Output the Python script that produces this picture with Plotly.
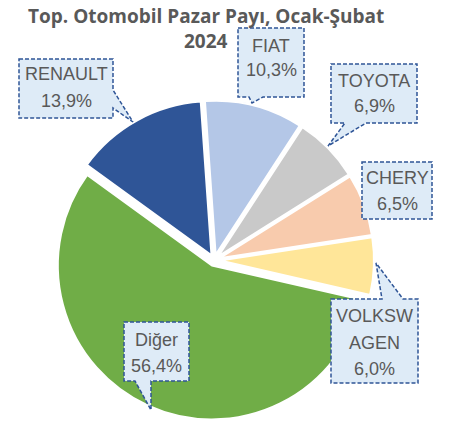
import plotly.graph_objects as go

# ---- data ----
brands = ["FIAT", "TOYOTA", "CHERY", "VOLKSWAGEN", "Diğer", "RENAULT"]
shares = [10.3, 6.9, 6.5, 6.0, 56.4, 13.9]
label_lines = [["FIAT", "10,3%"], ["TOYOTA", "6,9%"], ["CHERY", "6,5%"],
               ["VOLKSW", "AGEN", "6,0%"], ["Diğer", "56,4%"], ["RENAULT", "13,9%"]]
colors = ["#B4C7E7", "#C9C9C9", "#F8CBAD", "#FFE699", "#70AD47", "#2F5597"]
title_lines = ["Top. Otomobil Pazar Payı, Ocak-Şubat", "2024"]

W, H = 449, 422
FONT = "Liberation Sans, Arial, sans-serif"
TFONT = "Open Sans, sans-serif"
GRAY = "#595959"
BOX_FILL = "#DEEBF7"
BOX_LINE = "#2F5597"


def px(x):
    return x / W


def py(y):
    return 1 - y / H


def path(points):
    s = "M " + " L ".join(f"{px(x):.5f},{py(y):.5f}" for x, y in points) + " Z"
    return s


fig = go.Figure()
fig.add_trace(go.Pie(
    labels=brands, values=shares, sort=False, direction="clockwise",
    rotation=-4, pull=[0.037] * len(shares),
    marker=dict(colors=colors, line=dict(color="white", width=2)),
    textinfo="none", hoverinfo="label+percent",
    domain=dict(x=[54.5 / W, 374 / W], y=[1 - 420 / H, 1 - 100.5 / H]),
    showlegend=False,
))

# callout geometry (pixel layout positions)
callouts = {
    "RENAULT": dict(shape=[(19, 59), (113, 59), (113, 90), (133, 122), (113, 108), (113, 118), (19, 118)],
                    cx=66, ys=[74, 100.5]),
    "FIAT": dict(shape=[(238, 28), (304, 28), (304, 97), (263, 97), (252, 103), (249, 97), (238, 97)],
                 cx=271, ys=[46, 69.5]),
    "TOYOTA": dict(shape=[(331, 64), (417, 64), (417, 123), (366, 123), (328, 146), (345, 123), (331, 123)],
                   cx=374, ys=[80.5, 106]),
    "CHERY": dict(shape=[(362, 162), (432, 162), (432, 219), (362, 219)],
                  cx=397, ys=[177.5, 203.5]),
    "VOLKSWAGEN": dict(shape=[(331, 299), (382, 299), (376, 263), (403, 299), (418, 299), (418, 383), (331, 383)],
                       cx=374.5, ys=[316, 342.5, 369]),
    "Diğer": dict(shape=[(124, 322), (189, 322), (189, 381), (151, 381), (151, 410), (135, 381), (124, 381)],
                  cx=156.5, ys=[339.5, 365.5]),
}

shapes = []
annotations = []
for b, lines in zip(brands, label_lines):
    c = callouts[b]
    shapes.append(dict(type="path", xref="paper", yref="paper", path=path(c["shape"]),
                       fillcolor=BOX_FILL, line=dict(color=BOX_LINE, width=1.5, dash="4px,2px")))
    for t, y in zip(lines, c["ys"]):
        annotations.append(dict(text=t, x=px(c["cx"]), y=py(y), xref="paper", yref="paper",
                                xanchor="center", yanchor="middle", showarrow=False,
                                font=dict(family=FONT, size=18, color=GRAY)))

for t, y in zip(title_lines, [15.5, 41.5]):
    annotations.append(dict(text=f"<b>{t}</b>", x=px(206), y=py(y), xref="paper", yref="paper",
                            xanchor="center", yanchor="middle", showarrow=False,
                            font=dict(family=TFONT, size=19, color=GRAY)))

fig.update_layout(
    width=W, height=H, margin=dict(l=0, r=0, t=0, b=0),
    paper_bgcolor="white", plot_bgcolor="white",
    shapes=shapes, annotations=annotations,
)

fig.write_html("out.html", config={"displayModeBar": False},
               post_script="document.body.style.margin='0';")
